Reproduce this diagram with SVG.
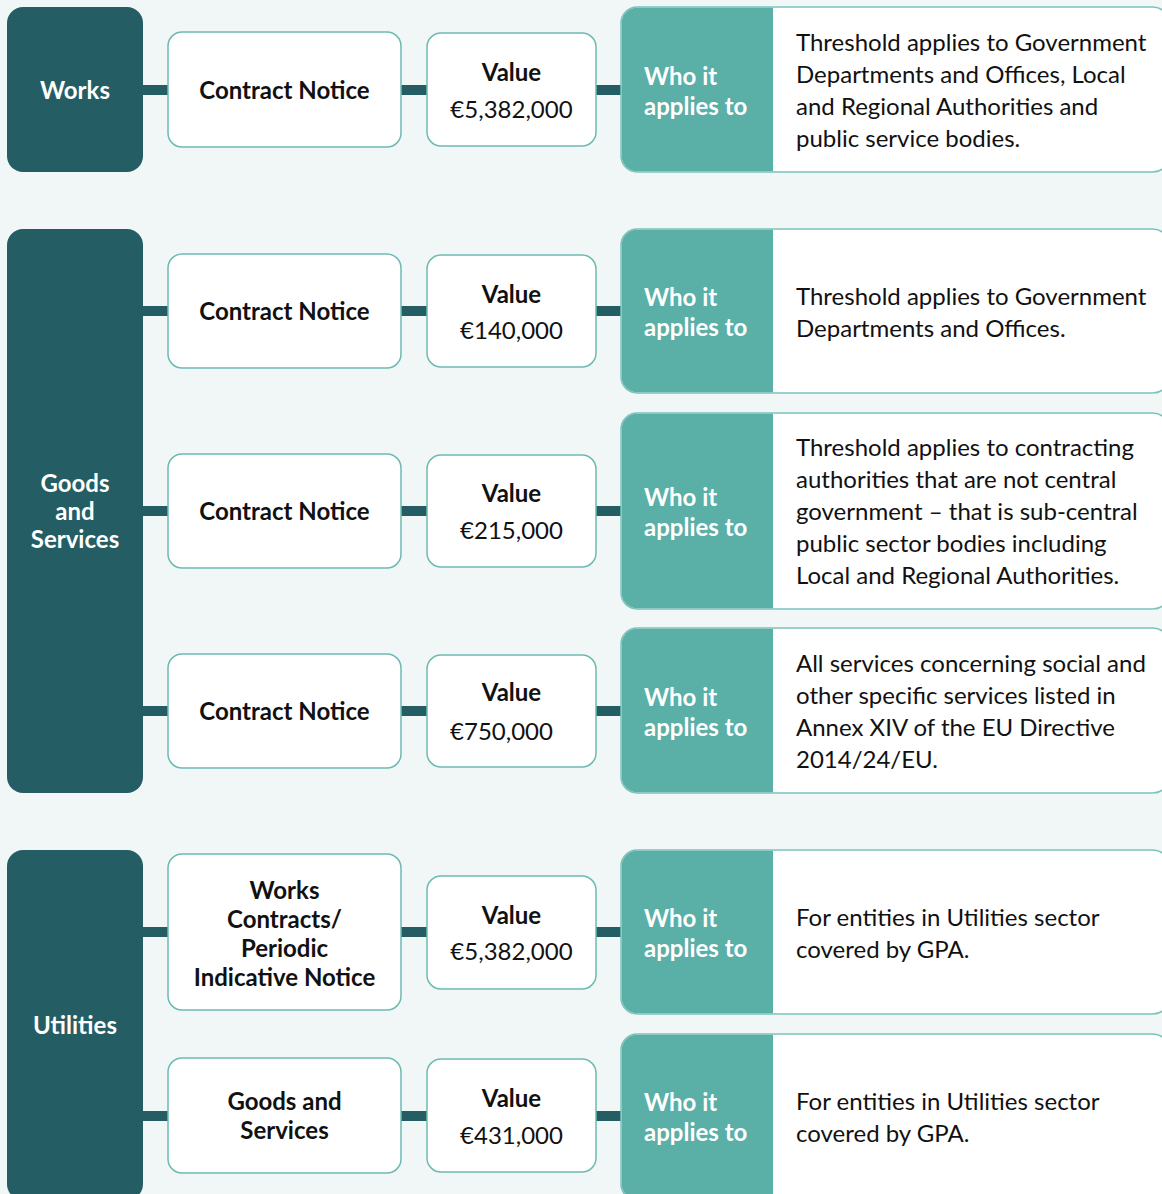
<svg xmlns="http://www.w3.org/2000/svg" width="1162" height="1194" viewBox="0 0 1162 1194">
<style>
.bg{fill:#F1F7F7}
.cat{fill:#245E64}
.box{fill:#FFFFFF;stroke:#6DBAB2;stroke-width:1.5}
.whoOuter{fill:#FFFFFF;stroke:#7CC3BB;stroke-width:1.5}
.whoTeal{fill:#5AAFA6}
.conn{fill:#245E64}
text{font-family:Lato,"Open Sans","Liberation Sans",sans-serif;font-size:24px}
.catT{fill:#FFFFFF;font-weight:700;text-anchor:middle}
.boxT{fill:#111111;font-weight:700;text-anchor:middle}
.valT{fill:#111111;font-weight:400;text-anchor:middle}
.whoT{fill:#FFFFFF;font-weight:700}
.body{fill:#111111;font-weight:400}
</style>
<rect class="bg" x="0" y="0" width="1162" height="1194"/>

<g id="connectors">
  <rect class="conn" x="140" y="85" width="30" height="10"/>
  <rect class="conn" x="399" y="85" width="30" height="10"/>
  <rect class="conn" x="594" y="85" width="30" height="10"/>

  <rect class="conn" x="140" y="306" width="30" height="10"/>
  <rect class="conn" x="399" y="306" width="30" height="10"/>
  <rect class="conn" x="594" y="306" width="30" height="10"/>

  <rect class="conn" x="140" y="506" width="30" height="10"/>
  <rect class="conn" x="399" y="506" width="30" height="10"/>
  <rect class="conn" x="594" y="506" width="30" height="10"/>

  <rect class="conn" x="140" y="706" width="30" height="10"/>
  <rect class="conn" x="399" y="706" width="30" height="10"/>
  <rect class="conn" x="594" y="706" width="30" height="10"/>

  <rect class="conn" x="140" y="927" width="30" height="10"/>
  <rect class="conn" x="399" y="927" width="30" height="10"/>
  <rect class="conn" x="594" y="927" width="30" height="10"/>

  <rect class="conn" x="140" y="1111" width="30" height="10"/>
  <rect class="conn" x="399" y="1111" width="30" height="10"/>
  <rect class="conn" x="594" y="1111" width="30" height="10"/>
</g>

<!-- Categories -->
<g id="cat-works">
  <rect class="cat" x="7" y="7" width="136" height="165" rx="16"/>
  <text class="catT" x="75" y="99">Works</text>
</g>
<g id="cat-goods">
  <rect class="cat" x="7" y="229" width="136" height="564" rx="16"/>
  <text class="catT" x="75" y="492">Goods</text>
  <text class="catT" x="75" y="520">and</text>
  <text class="catT" x="75" y="548">Services</text>
</g>
<g id="cat-utilities">
  <rect class="cat" x="7" y="850" width="136" height="350" rx="16"/>
  <text class="catT" x="75" y="1034">Utilities</text>
</g>

<!-- Row 1 -->
<g id="notice-1">
  <rect class="box" x="168" y="32" width="233" height="115" rx="14"/>
  <text class="boxT" x="284.5" y="99">Contract Notice</text>
</g>
<g id="value-1">
  <rect class="box" x="427" y="33" width="169" height="113" rx="14"/>
  <text class="boxT" x="511.5" y="81">Value</text>
  <text class="valT" x="511.5" y="118">€5,382,000</text>
</g>
<g id="who-1">
  <rect class="whoOuter" x="621" y="7" width="548" height="165" rx="16"/>
  <path class="whoTeal" d="M637 7.75H773V171.25H637A15.25 15.25 0 0 1 621.75 156V23A15.25 15.25 0 0 1 637 7.75Z"/>
  <text class="whoT" x="644" y="84.5">Who it</text>
  <text class="whoT" x="644" y="114.5">applies to</text>
  <text class="body" x="796" y="51">Threshold applies to Government</text>
  <text class="body" x="796" y="83">Departments and Offices, Local</text>
  <text class="body" x="796" y="115">and Regional Authorities and</text>
  <text class="body" x="796" y="147">public service bodies.</text>
</g>

<!-- Row 2 -->
<g id="notice-2">
  <rect class="box" x="168" y="254" width="233" height="114" rx="14"/>
  <text class="boxT" x="284.5" y="320">Contract Notice</text>
</g>
<g id="value-2">
  <rect class="box" x="427" y="255" width="169" height="112" rx="14"/>
  <text class="boxT" x="511.5" y="303">Value</text>
  <text class="valT" x="511.5" y="339">€140,000</text>
</g>
<g id="who-2">
  <rect class="whoOuter" x="621" y="229" width="548" height="164" rx="16"/>
  <path class="whoTeal" d="M637 229.75H773V392.25H637A15.25 15.25 0 0 1 621.75 377V245A15.25 15.25 0 0 1 637 229.75Z"/>
  <text class="whoT" x="644" y="305.5">Who it</text>
  <text class="whoT" x="644" y="335.5">applies to</text>
  <text class="body" x="796" y="305">Threshold applies to Government</text>
  <text class="body" x="796" y="337">Departments and Offices.</text>
</g>

<!-- Row 3 -->
<g id="notice-3">
  <rect class="box" x="168" y="454" width="233" height="114" rx="14"/>
  <text class="boxT" x="284.5" y="520">Contract Notice</text>
</g>
<g id="value-3">
  <rect class="box" x="427" y="455" width="169" height="112" rx="14"/>
  <text class="boxT" x="511.5" y="502">Value</text>
  <text class="valT" x="511.5" y="539">€215,000</text>
</g>
<g id="who-3">
  <rect class="whoOuter" x="621" y="413" width="548" height="196" rx="16"/>
  <path class="whoTeal" d="M637 413.75H773V608.25H637A15.25 15.25 0 0 1 621.75 593V429A15.25 15.25 0 0 1 637 413.75Z"/>
  <text class="whoT" x="644" y="505.5">Who it</text>
  <text class="whoT" x="644" y="535.5">applies to</text>
  <text class="body" x="796" y="456">Threshold applies to contracting</text>
  <text class="body" x="796" y="488">authorities that are not central</text>
  <text class="body" x="796" y="520">government – that is sub-central</text>
  <text class="body" x="796" y="552">public sector bodies including</text>
  <text class="body" x="796" y="584">Local and Regional Authorities.</text>
</g>

<!-- Row 4 -->
<g id="notice-4">
  <rect class="box" x="168" y="654" width="233" height="114" rx="14"/>
  <text class="boxT" x="284.5" y="720">Contract Notice</text>
</g>
<g id="value-4">
  <rect class="box" x="427" y="655" width="169" height="112" rx="14"/>
  <text class="boxT" x="511.5" y="701">Value</text>
  <text class="valT" x="501.5" y="740">€750,000</text>
</g>
<g id="who-4">
  <rect class="whoOuter" x="621" y="628" width="548" height="165" rx="16"/>
  <path class="whoTeal" d="M637 628.75H773V792.25H637A15.25 15.25 0 0 1 621.75 777V644A15.25 15.25 0 0 1 637 628.75Z"/>
  <text class="whoT" x="644" y="705.5">Who it</text>
  <text class="whoT" x="644" y="735.5">applies to</text>
  <text class="body" x="796" y="672">All services concerning social and</text>
  <text class="body" x="796" y="704">other specific services listed in</text>
  <text class="body" x="796" y="736">Annex XIV of the EU Directive</text>
  <text class="body" x="796" y="768">2014/24/EU.</text>
</g>

<!-- Row 5 -->
<g id="notice-5">
  <rect class="box" x="168" y="854" width="233" height="156" rx="14"/>
  <text class="boxT" x="284.5" y="899">Works</text>
  <text class="boxT" x="284.5" y="928">Contracts/</text>
  <text class="boxT" x="284.5" y="957">Periodic</text>
  <text class="boxT" x="284.5" y="986">Indicative Notice</text>
</g>
<g id="value-5">
  <rect class="box" x="427" y="876" width="169" height="113" rx="14"/>
  <text class="boxT" x="511.5" y="924">Value</text>
  <text class="valT" x="511.5" y="960">€5,382,000</text>
</g>
<g id="who-5">
  <rect class="whoOuter" x="621" y="850" width="548" height="164" rx="16"/>
  <path class="whoTeal" d="M637 850.75H773V1013.25H637A15.25 15.25 0 0 1 621.75 998V866A15.25 15.25 0 0 1 637 850.75Z"/>
  <text class="whoT" x="644" y="926.5">Who it</text>
  <text class="whoT" x="644" y="956.5">applies to</text>
  <text class="body" x="796" y="926">For entities in Utilities sector</text>
  <text class="body" x="796" y="958">covered by GPA.</text>
</g>

<!-- Row 6 -->
<g id="notice-6">
  <rect class="box" x="168" y="1058" width="233" height="115" rx="14"/>
  <text class="boxT" x="284.5" y="1110">Goods and</text>
  <text class="boxT" x="284.5" y="1139">Services</text>
</g>
<g id="value-6">
  <rect class="box" x="427" y="1059" width="169" height="113" rx="14"/>
  <text class="boxT" x="511.5" y="1107">Value</text>
  <text class="valT" x="511.5" y="1144">€431,000</text>
</g>
<g id="who-6">
  <rect class="whoOuter" x="621" y="1034" width="548" height="166" rx="16"/>
  <path class="whoTeal" d="M637 1034.75H773V1199.25H637A15.25 15.25 0 0 1 621.75 1184V1050A15.25 15.25 0 0 1 637 1034.75Z"/>
  <text class="whoT" x="644" y="1110.5">Who it</text>
  <text class="whoT" x="644" y="1140.5">applies to</text>
  <text class="body" x="796" y="1110">For entities in Utilities sector</text>
  <text class="body" x="796" y="1142">covered by GPA.</text>
</g>
</svg>
